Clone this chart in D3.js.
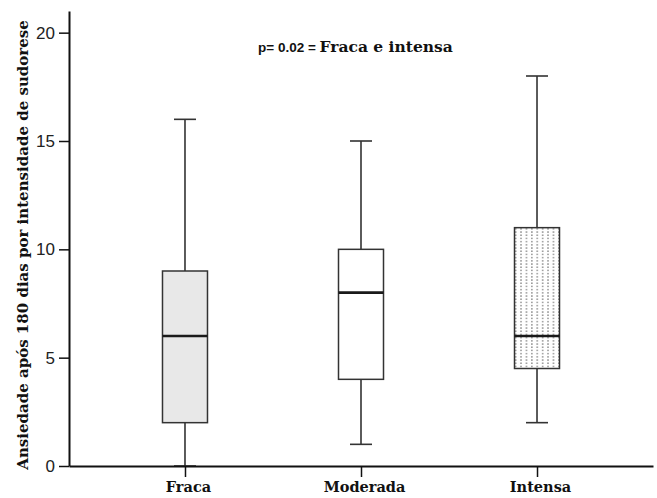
<!DOCTYPE html>
<html>
<head>
<meta charset="utf-8">
<script src="https://cdn.jsdelivr.net/npm/d3@7"></script>
<style>
  html, body { margin: 0; padding: 0; background: #fff; }
  svg { display: block; }
</style>
</head>
<body>
<svg id="chart" width="657" height="498"></svg>
<script>
const categories = ["Fraca", "Moderada", "Intensa"];
const mins    = [0, 1, 2];
const q1s     = [2, 4, 4.5];
const medians = [6, 8, 6];
const q3s     = [9, 10, 11];
const maxs    = [16, 15, 18];
const yTicks  = [0, 5, 10, 15, 20];
const fills   = ["#e8e8e8", "#ffffff", "url(#dots)"];

const svg = d3.select("#chart");
const mLeft = 69, mRight = 653, mTop = 11, mBottom = 466;

const defs = svg.append("defs");
const pat = defs.append("pattern").attr("id", "dots")
  .attr("patternUnits", "userSpaceOnUse")
  .attr("width", 5.4).attr("height", 3.2);
pat.append("rect").attr("width", 5.4).attr("height", 3.2).attr("fill", "#fff");
pat.append("rect").attr("x", 2).attr("y", 1).attr("width", 1.3).attr("height", 1.3).attr("fill", "#6a6a6a");

const x = d3.scalePoint().domain(categories).range([mLeft, mRight]).padding(0.659);
const y = d3.scaleLinear().domain([0, 21]).range([mBottom, mTop]);

const boxW = 45, capW = 22;
const data = categories.map((c, i) => ({
  c, min: mins[i], q1: q1s[i], med: medians[i], q3: q3s[i], max: maxs[i], fill: fills[i]
}));

const g = svg.append("g");
data.forEach(d => {
  const cx = x(d.c);
  g.append("line").attr("x1", cx).attr("x2", cx).attr("y1", y(d.q3)).attr("y2", y(d.max))
    .attr("stroke", "#333").attr("stroke-width", 1.6);
  g.append("line").attr("x1", cx).attr("x2", cx).attr("y1", y(d.q1)).attr("y2", y(d.min))
    .attr("stroke", "#333").attr("stroke-width", 1.6);
  g.append("line").attr("x1", cx - capW/2).attr("x2", cx + capW/2).attr("y1", y(d.max)).attr("y2", y(d.max))
    .attr("stroke", "#333").attr("stroke-width", 1.6);
  g.append("line").attr("x1", cx - capW/2).attr("x2", cx + capW/2).attr("y1", y(d.min)).attr("y2", y(d.min))
    .attr("stroke", "#333").attr("stroke-width", 1.6);
  g.append("rect").attr("x", cx - boxW/2).attr("width", boxW)
    .attr("y", y(d.q3)).attr("height", y(d.q1) - y(d.q3))
    .attr("fill", d.fill).attr("stroke", "#333").attr("stroke-width", 1.5);
  g.append("line").attr("x1", cx - boxW/2).attr("x2", cx + boxW/2).attr("y1", y(d.med)).attr("y2", y(d.med))
    .attr("stroke", "#1a1a1a").attr("stroke-width", 2.6);
});

const yAxis = svg.append("g").attr("transform", `translate(${mLeft},0)`)
  .call(d3.axisLeft(y).tickValues(yTicks).tickSize(10).tickPadding(4).tickSizeOuter(0));
yAxis.select(".domain").attr("stroke", "#111").attr("stroke-width", 2);
yAxis.selectAll(".tick line").attr("stroke", "#111").attr("stroke-width", 1.5);
yAxis.selectAll(".tick text").attr("font-family", "Liberation Sans, Arial, sans-serif")
  .attr("font-size", 17).attr("fill", "#222");

const xAxis = svg.append("g").attr("transform", `translate(0,${mBottom})`)
  .call(d3.axisBottom(x).tickSize(11).tickPadding(5).tickSizeOuter(0));
xAxis.select(".domain").attr("stroke", "#111").attr("stroke-width", 2);
xAxis.selectAll(".tick line").attr("stroke", "#111").attr("stroke-width", 1.5);
xAxis.selectAll(".tick text").attr("font-family", "DejaVu Serif, serif")
  .attr("font-weight", "bold").attr("font-size", 14.5).attr("fill", "#111")
  .attr("dx", 3);

svg.append("text")
  .attr("transform", `translate(28,245) rotate(-90)`)
  .attr("text-anchor", "middle")
  .attr("font-family", "DejaVu Serif, serif").attr("font-weight", "bold")
  .attr("font-size", 15).attr("fill", "#111")
  .text("Ansiedade após 180 dias por intensidade de sudorese");

const ann = svg.append("text").attr("x", 258).attr("y", 52).attr("fill", "#111");
ann.append("tspan").attr("font-family", "Liberation Sans, Arial, sans-serif")
  .attr("font-weight", "bold").attr("font-size", 13.5).text("p= 0.02 = ");
ann.append("tspan").attr("font-family", "DejaVu Serif, serif")
  .attr("font-weight", "bold").attr("font-size", 15.5).text("Fraca e intensa");
</script>
</body>
</html>
